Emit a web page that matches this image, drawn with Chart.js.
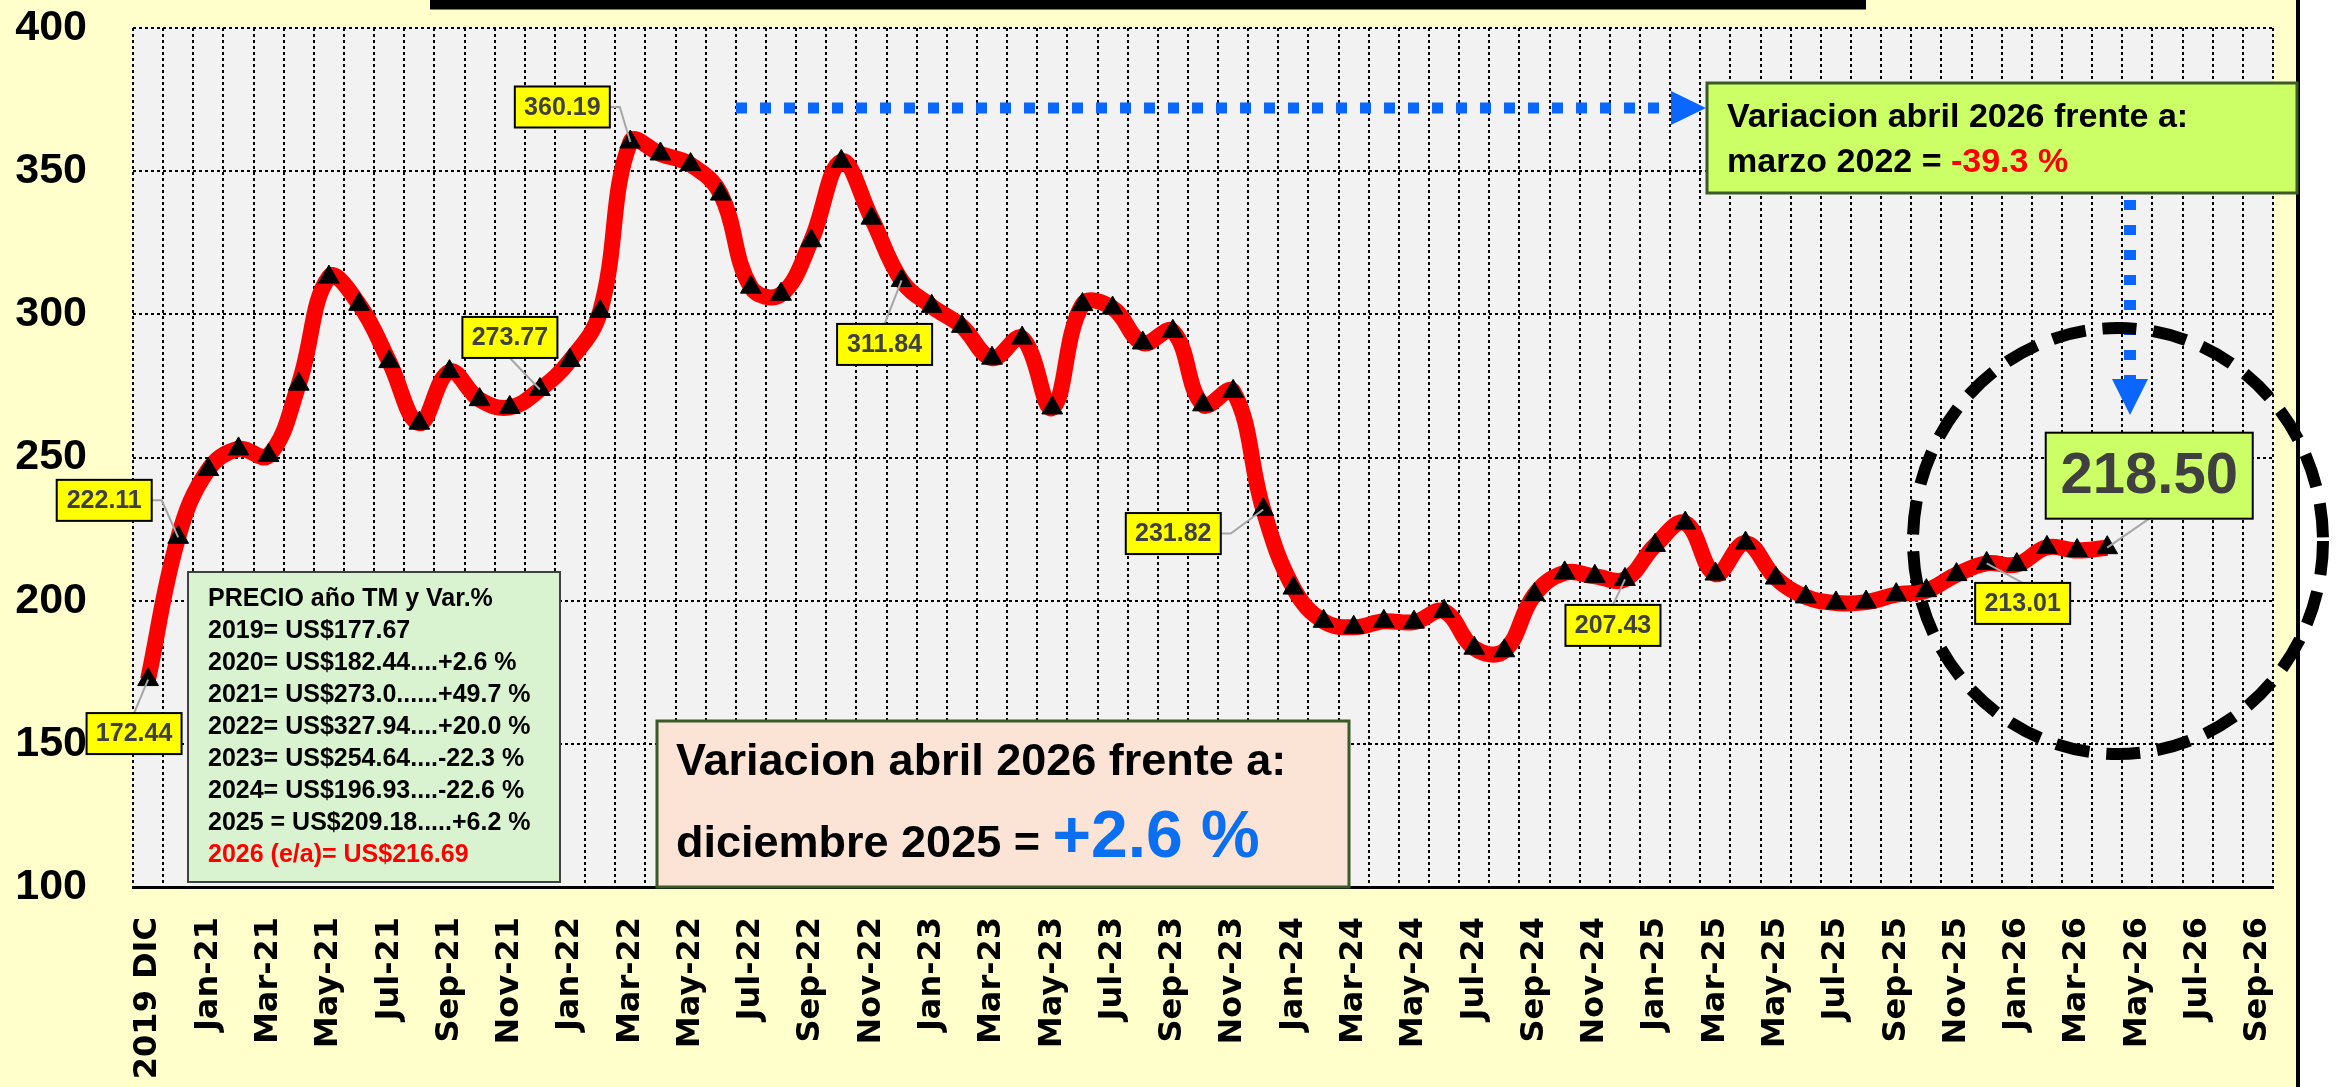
<!DOCTYPE html>
<html lang="es">
<head>
<meta charset="UTF-8">
<title>Precio TM</title>
<script src="https://cdn.jsdelivr.net/npm/chart.js@4.4.1/dist/chart.umd.min.js"></script>
<style>
  html, body { margin: 0; padding: 0; background: #ffffff; }
  #wrap { width: 2338px; height: 1087px; }
</style>
</head>
<body>
<div id="wrap"><canvas id="myChart" width="2338" height="1087"></canvas></div>
<script>
// categorias (solo se rotula una de cada dos)
const meses = [
  '2019 DIC', '2020 DIC',
  'Jan-21', 'Feb-21', 'Mar-21', 'Apr-21', 'May-21', 'Jun-21', 'Jul-21', 'Aug-21', 'Sep-21', 'Oct-21', 'Nov-21', 'Dec-21',
  'Jan-22', 'Feb-22', 'Mar-22', 'Apr-22', 'May-22', 'Jun-22', 'Jul-22', 'Aug-22', 'Sep-22', 'Oct-22', 'Nov-22', 'Dec-22',
  'Jan-23', 'Feb-23', 'Mar-23', 'Apr-23', 'May-23', 'Jun-23', 'Jul-23', 'Aug-23', 'Sep-23', 'Oct-23', 'Nov-23', 'Dec-23',
  'Jan-24', 'Feb-24', 'Mar-24', 'Apr-24', 'May-24', 'Jun-24', 'Jul-24', 'Aug-24', 'Sep-24', 'Oct-24', 'Nov-24', 'Dec-24',
  'Jan-25', 'Feb-25', 'Mar-25', 'Apr-25', 'May-25', 'Jun-25', 'Jul-25', 'Aug-25', 'Sep-25', 'Oct-25', 'Nov-25', 'Dec-25',
  'Jan-26', 'Feb-26', 'Mar-26', 'Apr-26', 'May-26', 'Jun-26', 'Jul-26', 'Aug-26', 'Sep-26'
];

// precio US$/TM
const precios = [
  172.44, 222.11,
  245.8, 253.0, 250.7, 275.6, 313.0, 303.5, 283.5, 262.0, 280.0, 270.2, 267.5, 273.77,
  283.9, 301.0, 360.19, 356.0, 352.3, 342.0, 309.5, 307.0, 325.7, 353.4, 333.6, 311.84,
  302.8, 295.8, 284.7, 291.7, 267.3, 303.4, 302.2, 290.0, 294.1, 268.4, 273.1, 231.82,
  204.4, 192.8, 190.7, 192.8, 192.5, 196.3, 183.4, 182.5, 202.1, 209.7, 208.5, 207.43,
  219.3, 227.1, 209.3, 220.1, 207.9, 201.3, 199.2, 199.5, 202.1, 203.5, 209.1, 213.01,
  212.6, 218.6, 217.5, 218.50
];

// puntos con etiqueta: indice y desplazamiento de la caja respecto al punto
const etiquetas = [
  { i: 0,  dx: -14,  dy: 54 },
  { i: 1,  dx: -74,  dy: -37 },
  { i: 13, dx: -30,  dy: -52 },
  { i: 16, dx: -68,  dy: -35 },
  { i: 25, dx: -17,  dy: 64 },
  { i: 37, dx: -90,  dy: 24 },
  { i: 49, dx: -12,  dy: 46 },
  { i: 61, dx: 36,   dy: 40 }
];
const ultimo = { i: 65, dx: 42, dy: -72 };

const resumen = [
  'PRECIO año TM y Var.%',
  '2019= US$177.67',
  '2020= US$182.44....+2.6 %',
  '2021= US$273.0......+49.7 %',
  '2022= US$327.94....+20.0 %',
  '2023= US$254.64....-22.3 %',
  '2024= US$196.93....-22.6 %',
  '2025 = US$209.18.....+6.2 %',
  '2026 (e/a)= US$216.69'
];

const FUENTE = '"Liberation Sans", Arial, sans-serif';

function caja(ctx, x, y, w, h, fill, stroke, lw) {
  ctx.fillStyle = fill;
  ctx.fillRect(x, y, w, h);
  ctx.lineWidth = lw;
  ctx.strokeStyle = stroke;
  ctx.strokeRect(x, y, w, h);
}

function etiqueta(ctx, p, e, w, h, size, fill) {
  const cx = p.x + e.dx, cy = p.y + e.dy;
  const x0 = cx - w / 2, y0 = cy - h / 2;
  // linea guia
  ctx.save();
  ctx.strokeStyle = '#a6a6a6';
  ctx.lineWidth = 2;
  ctx.beginPath();
  if (Math.abs(e.dx) > w / 2) {
    const sx = e.dx < 0 ? x0 + w : x0;
    const st = e.dx < 0 ? sx + 10 : sx - 10;
    ctx.moveTo(sx, cy);
    ctx.lineTo(st, cy);
  } else {
    ctx.moveTo(cx, e.dy > 0 ? y0 : y0 + h);
  }
  ctx.lineTo(p.x, p.y);
  ctx.stroke();
  caja(ctx, x0, y0, w, h, fill, '#000000', 2);
  ctx.fillStyle = '#404040';
  ctx.font = 'bold ' + size + 'px ' + FUENTE;
  ctx.textAlign = 'center';
  ctx.textBaseline = 'middle';
  ctx.fillText(precios[e.i].toFixed(2), cx, cy + 1);
  ctx.restore();
}

function flechaH(ctx, x1, x2, y) {
  ctx.save();
  ctx.strokeStyle = '#0a66ff';
  ctx.fillStyle = '#0a66ff';
  ctx.lineWidth = 11;
  ctx.setLineDash([11, 13]);
  ctx.beginPath();
  ctx.moveTo(x1, y);
  ctx.lineTo(x2 - 38, y);
  ctx.stroke();
  ctx.beginPath();
  ctx.moveTo(x2 - 35, y - 17);
  ctx.lineTo(x2, y);
  ctx.lineTo(x2 - 35, y + 17);
  ctx.closePath();
  ctx.fill();
  ctx.restore();
}

function flechaV(ctx, x, y1, y2) {
  ctx.save();
  ctx.strokeStyle = '#0a66ff';
  ctx.fillStyle = '#0a66ff';
  ctx.lineWidth = 12;
  ctx.setLineDash([10, 15]);
  ctx.beginPath();
  ctx.moveTo(x, y1);
  ctx.lineTo(x, y2 - 36);
  ctx.stroke();
  ctx.beginPath();
  ctx.moveTo(x - 18, y2 - 36);
  ctx.lineTo(x + 18, y2 - 36);
  ctx.lineTo(x, y2);
  ctx.closePath();
  ctx.fill();
  ctx.restore();
}

const fondo = {
  id: 'fondo',
  beforeDraw(chart) {
    const { ctx, chartArea: a } = chart;
    ctx.save();
    ctx.fillStyle = '#ffffcc';
    ctx.fillRect(0, 0, 2299, chart.height);
    ctx.fillStyle = '#f2f2f2';
    ctx.fillRect(a.left, a.top, a.right - a.left, a.bottom - a.top);
    ctx.restore();
  }
};

const anotaciones = {
  id: 'anotaciones',
  afterDraw(chart) {
    const { ctx } = chart;
    const meta = chart.getDatasetMeta(0);
    ctx.save();

    // marco derecho y barra del titulo
    ctx.fillStyle = '#000000';
    ctx.fillRect(2296, 0, 4, chart.height);
    ctx.fillRect(430, 0, 1436, 9);
    ctx.fillStyle = '#7f7f4c';
    ctx.fillRect(430, 9, 1436, 1);

    // cuadro resumen
    caja(ctx, 188, 572, 372, 310, '#d9f2d0', '#404040', 2);
    ctx.font = 'bold 25px ' + FUENTE;
    ctx.textAlign = 'left';
    ctx.textBaseline = 'alphabetic';
    resumen.forEach((t, k) => {
      ctx.fillStyle = k === resumen.length - 1 ? '#ff0000' : '#000000';
      ctx.fillText(t, 208, 606 + k * 32);
    });

    // cuadro variacion diciembre
    caja(ctx, 657, 721, 692, 166, '#fbe3d6', '#3a5a28', 3);
    ctx.fillStyle = '#000000';
    ctx.font = 'bold 45px ' + FUENTE;
    ctx.fillText('Variacion abril 2026 frente a:', 676, 775);
    const t2 = 'diciembre 2025 = ';
    ctx.fillText(t2, 676, 857);
    const w2 = ctx.measureText(t2).width;
    ctx.fillStyle = '#0a6ff0';
    ctx.font = 'bold 66px ' + FUENTE;
    ctx.fillText('+2.6 %', 676 + w2, 857);

    // flechas
    flechaH(ctx, 736, 1706, 108);
    flechaV(ctx, 2130, 200, 415);

    // cuadro variacion marzo 2022
    caja(ctx, 1707, 83, 590, 110, '#ccff66', '#3a5a28', 3);
    ctx.fillStyle = '#000000';
    ctx.font = 'bold 34px ' + FUENTE;
    ctx.fillText('Variacion abril 2026 frente a:', 1727, 127);
    const t3 = 'marzo 2022 = ';
    ctx.fillText(t3, 1727, 172);
    ctx.fillStyle = '#ff0000';
    ctx.fillText('-39.3 %', 1727 + ctx.measureText(t3).width, 172);

    // circulo punteado
    ctx.strokeStyle = '#000000';
    ctx.lineWidth = 12;
    ctx.setLineDash([34, 17]);
    ctx.beginPath();
    ctx.ellipse(2118, 541, 205, 213, 0, 0, Math.PI * 2);
    ctx.stroke();
    ctx.setLineDash([]);

    // etiquetas de datos
    etiquetas.forEach(e => etiqueta(ctx, meta.data[e.i], e, 95, 41, 25, '#ffff00'));
    etiqueta(ctx, meta.data[ultimo.i], ultimo, 207, 86, 58, '#ccff66');

    ctx.restore();
  }
};

const ctx = document.getElementById('myChart').getContext('2d');
const myChart = new Chart(ctx, {
  type: 'line',
  data: {
    labels: meses,
    datasets: [{
      data: precios,
      borderColor: '#ff0000',
      borderWidth: 16,
      tension: 0.4,
      pointStyle: 'triangle',
      pointRadius: 12,
      pointBackgroundColor: '#000000',
      pointBorderColor: '#000000',
      pointBorderWidth: 1
    }]
  },
  options: {
    responsive: false,
    animation: false,
    devicePixelRatio: 1,
    layout: { padding: { top: 28, right: 65, left: 0, bottom: 0 } },
    plugins: {
      legend: { display: false },
      tooltip: { enabled: false }
    },
    scales: {
      x: {
        offset: true,
        grid: { offset: true, color: '#000000', lineWidth: 2, drawTicks: false },
        border: { display: true, color: '#000000', width: 3, dash: [3, 3] },
        ticks: {
          autoSkip: false,
          maxRotation: 90,
          minRotation: 90,
          padding: 30,
          color: '#000000',
          font: { family: '"DejaVu Sans", Arial, sans-serif', size: 32, weight: 'bold' },
          callback: (v, i) => (i % 2 === 0 ? meses[i] : '')
        },
        afterFit: s => { s.height = 200; }
      },
      y: {
        min: 100,
        max: 400,
        grid: { color: '#000000', lineWidth: 2, drawTicks: false },
        border: { display: false, dash: [3, 3] },
        ticks: {
          stepSize: 50,
          padding: 46,
          color: '#000000',
          font: { family: FUENTE, size: 43, weight: 'bold' }
        },
        afterFit: s => {
          s.width = 133;
          s.paddingTop = 20;
          s.paddingBottom = 20;
        }
      }
    }
  },
  plugins: [fondo, anotaciones]
});
</script>
</body>
</html>
